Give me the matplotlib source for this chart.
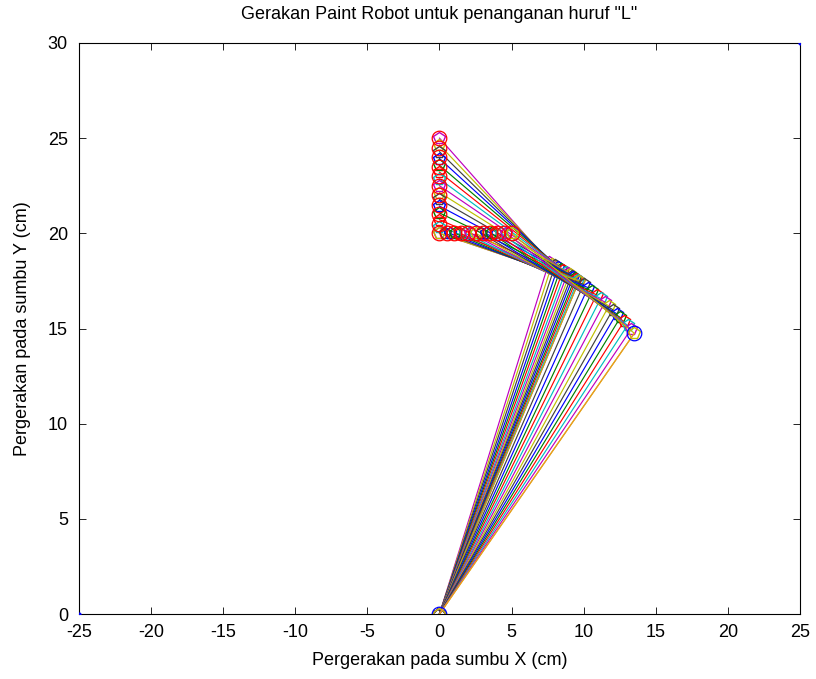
import matplotlib
matplotlib.use('Agg')
from matplotlib import pyplot as plt

plt.rcParams['font.family'] = ['Liberation Sans', 'DejaVu Sans']
plt.rcParams['font.size'] = 13
plt.rcParams['axes.unicode_minus'] = False

# end-effector path for the letter "L" (cm): down the stem, then along the foot
end_x = [0, 0, 0, 0, 0, 0, 0, 0, 0, 0, 0, 0, 0, 0, 0,
         0, 0.357, 0.714, 1.071, 1.429, 1.786, 2.143, 2.5, 2.857, 3.214,
         3.571, 3.929, 4.286, 4.643, 5.0]
end_y = [25, 24.643, 24.286, 23.929, 23.571, 23.214, 22.857, 22.5, 22.143, 21.786,
         21.429, 21.071, 20.714, 20.357, 20,
         20, 20, 20, 20, 20, 20, 20, 20, 20, 20, 20, 20, 20, 20, 20]

# elbow (joint 2) positions
elbow_x = [7.60, 7.82, 8.02, 8.22, 8.40, 8.57, 8.74, 8.89, 9.03, 9.16,
           9.28, 9.40, 9.50, 9.60, 9.68,
           9.68, 9.99, 10.30, 10.60, 10.89, 11.18, 11.47, 11.75, 12.02, 12.28,
           12.54, 12.79, 13.04, 13.28, 13.51]
elbow_y = [18.50, 18.41, 18.32, 18.23, 18.15, 18.07, 17.99, 17.92, 17.85, 17.78,
           17.72, 17.65, 17.60, 17.55, 17.50,
           17.50, 17.32, 17.15, 16.96, 16.77, 16.58, 16.39, 16.19, 15.99, 15.78,
           15.58, 15.37, 15.17, 14.96, 14.75]

# target points of the letter (red circles)
target_x = [0, 0, 0, 0, 0, 0, 0, 0, 0, 0, 0,
            0.5, 1.0, 1.5, 2.0, 2.5, 3.0, 3.5, 4.0, 4.5, 5.0]
target_y = [25, 24.5, 24, 23.5, 23, 22.5, 22, 21.5, 21, 20.5, 20,
            20, 20, 20, 20, 20, 20, 20, 20, 20, 20]

# last arm pose (link 1)
home_x = [0, 13.51]
home_y = [0, 14.75]

# old matlab color order
COLORS = [(0, 0, 1), (0, 0.5, 0), (1, 0, 0), (0, 0.75, 0.75),
          (0.75, 0, 0.75), (0.75, 0.75, 0), (0.25, 0.25, 0.25)]
COLOR_ORANGE = (0.93, 0.6, 0.13)


def main():
    fig = plt.figure(figsize=(8.16, 6.79), dpi=100)
    ax = fig.add_axes([0.0968, 0.0957, 0.8836, 0.841])

    ax.plot([-25, 25], [0, 30], '.', color='blue', ms=4, zorder=5)

    for i in range(len(end_x)):
        c = COLORS[(i + 4) % len(COLORS)]
        ax.plot([0, elbow_x[i], end_x[i]], [0, elbow_y[i], end_y[i]], '-p',
                color=c, lw=0.85, ms=8.5, mfc='none', mew=1.0)

    ax.plot(target_x, target_y, 'o', color='red', ms=10.5, mfc='none', mew=0.9)
    ax.plot(home_x, home_y, '-', color=COLOR_ORANGE, lw=0.9)
    ax.plot(home_x, home_y, 'o', color='blue', ms=10.5, mfc='none', mew=0.9)

    ax.set_xlim(-25, 25)
    ax.set_ylim(0, 30)
    ax.set_xticks(range(-25, 26, 5))
    ax.set_yticks(range(0, 31, 5))
    ax.tick_params(direction='in', top=True, right=True, length=5, width=0.6)
    ax.tick_params(axis='x', pad=7)
    ax.tick_params(axis='y', pad=8)
    for s in ax.spines.values():
        s.set_linewidth(0.8)

    ax.set_title('Gerakan Paint Robot untuk penanganan huruf "L"', fontsize=13, pad=17)
    ax.set_xlabel('Pergerakan pada sumbu X (cm)', labelpad=8)
    ax.set_ylabel('Pergerakan pada sumbu Y (cm)', labelpad=12)

    fig.savefig('out.png', dpi=100)


if __name__ == '__main__':
    main()
